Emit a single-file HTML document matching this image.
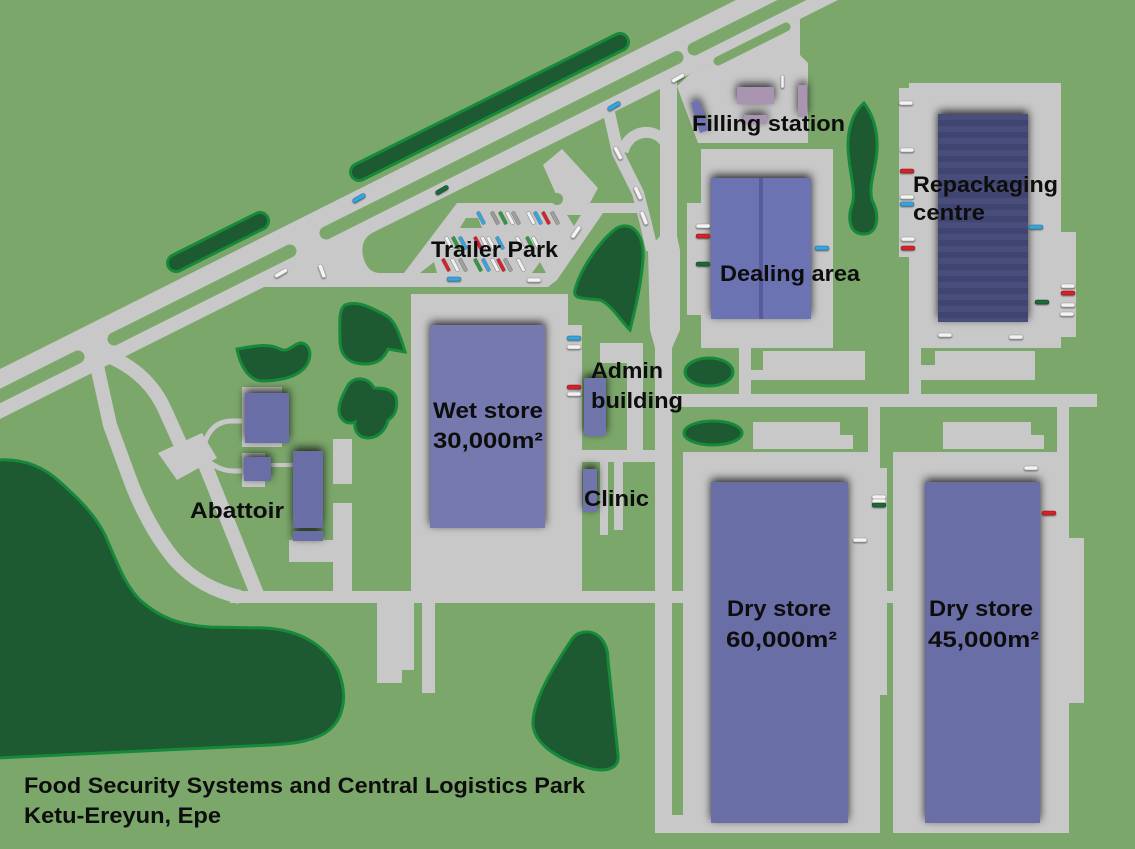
<!DOCTYPE html>
<html><head><meta charset="utf-8">
<style>
html,body{margin:0;padding:0;background:#7ba76b;}
svg{display:block;}
text{font-family:"Liberation Sans",sans-serif;font-weight:bold;fill:#0d0d0d;font-size:22px;}
</style></head><body>
<svg width="1135" height="849" viewBox="0 0 1135 849" xmlns="http://www.w3.org/2000/svg">
<defs>
<filter id="sh" x="-40%" y="-40%" width="180%" height="180%">
<feGaussianBlur in="SourceAlpha" stdDeviation="4.5"/>
<feOffset dy="-3" result="b"/>
<feFlood flood-color="#000" flood-opacity="0.8"/>
<feComposite in2="b" operator="in"/>
<feMerge><feMergeNode/><feMergeNode in="SourceGraphic"/></feMerge>
</filter>
<filter id="csh" x="-50%" y="-50%" width="200%" height="200%">
<feGaussianBlur in="SourceAlpha" stdDeviation="0.8"/>
<feOffset dy="0.8" result="b"/>
<feFlood flood-color="#000" flood-opacity="0.5"/>
<feComposite in2="b" operator="in"/>
<feMerge><feMergeNode/><feMergeNode in="SourceGraphic"/></feMerge>
</filter>
<pattern id="st" width="20" height="12" patternUnits="userSpaceOnUse" y="114">
<rect width="20" height="12" fill="#41446f"/><rect width="20" height="6" fill="#4a4d7c"/>
</pattern>
</defs>
<rect width="1135" height="849" fill="#7ba76b"/>

<g fill="#c8c8c8">
<polygon points="0,369 736,0 838,0 0,419"/>
<polygon points="222,308 262,287 548,287 557,280 603,213 648,213 645,200 605,100 236,285"/>
</g>
<path d="M380,273 L404,273 L457,203 L648,203 L612,114 L372,233 Q360,240 363,256 Q367,273 380,273 Z" fill="#7ba76b"/>
<polygon points="543,165 562,149 598,188 590,203 560,203" fill="#c8c8c8"/>
<circle cx="557" cy="199" r="6" fill="#7ba76b"/>
<g fill="#7ba76b">
<polygon points="460,228 466,218 478,218 482,228"/>
<polygon points="567,215 581,215 574,226"/>
<polygon points="420,273 434,262 437,273"/>
<polygon points="532,273 540,262 546,273"/>
</g>

<g fill="none" stroke="#c8c8c8" stroke-linejoin="round">
<polyline points="608,108 618,153 638,193 645,220 652,250" stroke-width="12"/>
<path d="M623,152 C627,132 652,125 665,142" stroke-width="11"/>
<path d="M97,366 L110,425 L132,485 Q150,530 175,560 Q200,588 240,597" stroke-width="14"/>
<path d="M106,355 Q148,372 165,410 L183,450" stroke-width="14"/>
<path d="M204,462 L257,594" stroke-width="14"/>
<path d="M205,442 Q212,421 232,421 L246,421" stroke-width="5"/>
<path d="M208,461 Q220,471 234,471 L246,471" stroke-width="5"/>
<path d="M268,465 L295,465" stroke-width="4"/>
</g>

<g fill="#c8c8c8">
<polygon points="660,82 677,82 677,236 680,250 680,330 672,348 672,833 655,833 655,348 650,330 648,250 660,236"/>
<polygon points="690,74 800,19 800,55 808,63 808,143 698,143 682,100 677,86"/>
<rect x="411" y="294" width="157" height="308"/>
<rect x="567" y="325" width="15" height="277"/>
<rect x="600" y="343" width="43" height="20"/>
<rect x="627" y="363" width="16" height="87"/>
<rect x="568" y="450" width="87" height="12"/>
<rect x="600" y="462" width="8" height="73"/>
<rect x="614" y="462" width="9" height="68"/>
<rect x="230" y="591" width="663" height="12"/>
<rect x="377" y="602" width="37" height="68"/>
<rect x="377" y="670" width="25" height="13"/>
<rect x="422" y="602" width="13" height="91"/>
<rect x="242" y="387" width="40" height="60"/>
<rect x="242" y="453" width="23" height="34"/>
<rect x="289" y="540" width="44" height="22"/>
<rect x="333" y="503" width="19" height="89"/>
<rect x="333" y="439" width="19" height="45"/>
<polygon points="158,453 202,433 217,458 177,480"/>
<rect x="701" y="149" width="132" height="199"/>
<rect x="687" y="203" width="14" height="112"/>
<rect x="739" y="348" width="12" height="47"/>
<rect x="763" y="351" width="102" height="29"/>
<rect x="751" y="370" width="14" height="10"/>
<rect x="909" y="83" width="152" height="265"/>
<rect x="899" y="88" width="10" height="169"/>
<rect x="1061" y="232" width="15" height="105"/>
<rect x="909" y="348" width="12" height="47"/>
<rect x="935" y="351" width="100" height="29"/>
<rect x="921" y="365" width="14" height="15"/>
<rect x="655" y="394" width="442" height="13"/>
<rect x="868" y="407" width="12" height="45"/>
<rect x="1057" y="407" width="12" height="131"/>
<rect x="753" y="422" width="87" height="27"/>
<rect x="840" y="435" width="13" height="14"/>
<rect x="943" y="422" width="88" height="27"/>
<rect x="1031" y="435" width="13" height="14"/>
<rect x="683" y="452" width="197" height="381"/>
<rect x="880" y="468" width="7" height="227"/>
<rect x="655" y="815" width="225" height="18"/>
<rect x="893" y="452" width="176" height="381"/>
<rect x="1069" y="538" width="15" height="165"/>
</g>

<g stroke="#7ba76b" stroke-width="13" stroke-linecap="round" fill="none">
<line x1="-10" y1="401" x2="78" y2="357"/>
<line x1="114" y1="339" x2="290" y2="251"/>
<line x1="326" y1="233" x2="677" y2="57.5"/>
<line x1="694" y1="49" x2="860" y2="-34"/>
<line x1="718" y1="61" x2="786" y2="27" stroke-width="9"/>
</g>

<g stroke-linecap="round" fill="none">
<line x1="359" y1="172" x2="620" y2="42" stroke="#16893b" stroke-width="20"/>
<line x1="359" y1="172" x2="620" y2="42" stroke="#1d5a31" stroke-width="14"/>
<line x1="176" y1="263" x2="260" y2="221" stroke="#16893b" stroke-width="20"/>
<line x1="176" y1="263" x2="260" y2="221" stroke="#1d5a31" stroke-width="14"/>
</g>

<g fill="#1d5a31" stroke="#16893b" stroke-width="3">
<path d="M-3,460 C25,458 45,468 60,482 C80,500 95,515 105,535 C118,565 125,585 140,600 C160,618 180,625 210,627 L265,628 C300,630 325,645 338,670 C348,695 345,720 325,733 C310,742 290,744 270,745 L-3,758 Z"/>
<path d="M580,633 C595,628 608,640 608,660 L618,755 C620,772 600,772 585,767 C560,760 535,745 533,725 C532,700 555,665 570,642 C573,637 576,634 580,633 Z"/>
<path d="M575,290 C580,270 600,240 617,228 C632,220 645,235 643,260 C641,285 635,310 630,330 C620,320 612,305 600,300 C585,298 572,300 575,290 Z"/>
<path d="M864,103 C873,115 878,130 877,150 C876,170 868,185 872,200 C880,215 878,233 865,234 C850,235 847,220 852,205 C857,190 848,170 848,145 C848,125 855,110 864,103 Z"/>
<path d="M237,349 C255,346 268,343 280,349 C288,353 292,345 300,343 C310,343 313,355 306,366 C298,377 280,381 262,381 C248,380 240,365 237,349 Z"/>
<path d="M345,305 C358,300 372,308 385,315 C395,320 400,335 405,352 L388,349 C384,358 378,364 365,364 C348,364 340,355 340,340 C340,325 338,310 345,305 Z"/>
<path d="M348,385 C355,376 368,377 374,388 C380,388 392,388 396,397 C398,408 395,416 388,420 C386,430 378,438 368,438 C358,438 354,430 355,422 C346,426 338,418 339,408 C340,400 343,395 348,385 Z"/>
<ellipse cx="709" cy="372" rx="24" ry="14"/>
<ellipse cx="713" cy="433" rx="29" ry="12"/>
</g>

<g filter="url(#sh)">
<rect x="430" y="325" width="115" height="203" fill="#7579ae"/>
<rect x="584" y="378" width="22" height="58" fill="#7075ac"/>
<rect x="583" y="469" width="14" height="43" fill="#7075ac"/>
<rect x="245" y="393" width="44" height="50" fill="#6a6ea6"/>
<rect x="244" y="457" width="27" height="24" fill="#6a6ea6"/>
<rect x="293" y="451" width="30" height="77" fill="#6a6ea6"/>
<rect x="293" y="531" width="30" height="10" fill="#6a6ea6"/>
<rect x="711" y="178" width="100" height="141" fill="#6c73b2"/>
<rect x="938" y="114" width="90" height="208" fill="url(#st)"/>
<rect x="711" y="482" width="137" height="341" fill="#6a6ea6"/>
<rect x="925" y="482" width="115" height="341" fill="#6a6ea6"/>
<rect x="737" y="87" width="37" height="17" fill="#a994b2"/>
<rect x="744" y="115" width="23" height="9" fill="#a994b2"/>
<rect x="798" y="85" width="9" height="32" fill="#a994b2"/>
<polygon points="691,103 699,100 709,130 700,133" fill="#6e72b0"/>
</g>
<rect x="759" y="178" width="4" height="141" fill="#565c99"/>

<g filter="url(#csh)" stroke-width="0.5">
<g fill="#f3f3f3" stroke="#999">
<rect x="696" y="224" width="14" height="4" rx="2"/>
<rect x="899" y="101" width="14" height="4" rx="2"/>
<rect x="900" y="148" width="14" height="4" rx="2"/>
<rect x="900" y="195" width="14" height="4" rx="2"/>
<rect x="901" y="237" width="14" height="4" rx="2"/>
<rect x="1061" y="284" width="14" height="4" rx="2"/>
<rect x="1061" y="303" width="14" height="4" rx="2"/>
<rect x="1060" y="312" width="14" height="4" rx="2"/>
<rect x="938" y="333" width="14" height="4" rx="2"/>
<rect x="1009" y="335" width="14" height="4" rx="2"/>
<rect x="567" y="345" width="14" height="4" rx="2"/>
<rect x="567" y="392" width="14" height="4" rx="2"/>
<rect x="872" y="495" width="14" height="4" rx="2"/>
<rect x="872" y="499" width="14" height="4" rx="2"/>
<rect x="853" y="538" width="14" height="4" rx="2"/>
<rect x="1024" y="466" width="14" height="4" rx="2"/>
<rect x="527" y="278" width="14" height="4" rx="2"/>
<rect x="781" y="75" width="3" height="13" rx="1.5"/>
<rect x="-7" y="-2" width="14" height="4" rx="2" transform="translate(281,273) rotate(-30)"/>
<rect x="-7" y="-2" width="14" height="4" rx="2" transform="translate(322,271) rotate(70)"/>
<rect x="-7" y="-2" width="14" height="4" rx="2" transform="translate(678,78) rotate(-30)"/>
<rect x="-7" y="-2" width="14" height="4" rx="2" transform="translate(618,153) rotate(62)"/>
<rect x="-7" y="-2" width="14" height="4" rx="2" transform="translate(638,193) rotate(65)"/>
<rect x="-7" y="-2" width="14" height="4" rx="2" transform="translate(644,218) rotate(68)"/>
<rect x="-7" y="-2" width="14" height="4" rx="2" transform="translate(576,232) rotate(-55)"/>
</g>
<g fill="#d8202c" stroke="#8a1010">
<rect x="696" y="234" width="14" height="4" rx="2"/>
<rect x="900" y="169" width="14" height="4" rx="2"/>
<rect x="901" y="246" width="14" height="4" rx="2"/>
<rect x="1061" y="291" width="14" height="4" rx="2"/>
<rect x="567" y="385" width="14" height="4" rx="2"/>
<rect x="1042" y="511" width="14" height="4" rx="2"/>
</g>
<g fill="#35a5e0" stroke="#1a6f9a">
<rect x="815" y="246" width="14" height="4" rx="2"/>
<rect x="900" y="202" width="14" height="4" rx="2"/>
<rect x="1029" y="225" width="14" height="4" rx="2"/>
<rect x="567" y="336" width="14" height="4" rx="2"/>
<rect x="447" y="277" width="14" height="4" rx="2"/>
<rect x="-7" y="-2" width="14" height="4" rx="2" transform="translate(359,198) rotate(-30)"/>
<rect x="-7" y="-2" width="14" height="4" rx="2" transform="translate(614,106) rotate(-30)"/>
</g>
<g fill="#1b6a38" stroke="#0d3d1e">
<rect x="696" y="262" width="14" height="4" rx="2"/>
<rect x="1035" y="300" width="14" height="4" rx="2"/>
<rect x="872" y="503" width="14" height="4" rx="2"/>
<rect x="-7" y="-2" width="14" height="4" rx="2" transform="translate(442,190) rotate(-30)"/>
</g>
</g>

<g stroke-width="0.4" stroke="#666">
<g transform="translate(481,218) rotate(-28)"><rect x="-1.8" y="-7" width="3.6" height="14" rx="1" fill="#35a5e0"/></g>
<g transform="translate(495,218) rotate(-28)"><rect x="-1.8" y="-7" width="3.6" height="14" rx="1" fill="#9a9a9a"/></g>
<g transform="translate(503,218) rotate(-28)"><rect x="-1.8" y="-7" width="3.6" height="14" rx="1" fill="#2f9a3c"/></g>
<g transform="translate(510,218) rotate(-28)"><rect x="-1.8" y="-7" width="3.6" height="14" rx="1" fill="#f0f0f0"/></g>
<g transform="translate(516,218) rotate(-28)"><rect x="-1.8" y="-7" width="3.6" height="14" rx="1" fill="#a0a0a0"/></g>
<g transform="translate(531,218) rotate(-28)"><rect x="-1.8" y="-7" width="3.6" height="14" rx="1" fill="#f0f0f0"/></g>
<g transform="translate(538,218) rotate(-28)"><rect x="-1.8" y="-7" width="3.6" height="14" rx="1" fill="#35a5e0"/></g>
<g transform="translate(546,218) rotate(-28)"><rect x="-1.8" y="-7" width="3.6" height="14" rx="1" fill="#d8202c"/></g>
<g transform="translate(555,218) rotate(-28)"><rect x="-1.8" y="-7" width="3.6" height="14" rx="1" fill="#a0a0a0"/></g>
<g transform="translate(449,243) rotate(-28)"><rect x="-1.8" y="-7" width="3.6" height="14" rx="1" fill="#f0f0f0"/></g>
<g transform="translate(456,243) rotate(-28)"><rect x="-1.8" y="-7" width="3.6" height="14" rx="1" fill="#2f9a3c"/></g>
<g transform="translate(463,243) rotate(-28)"><rect x="-1.8" y="-7" width="3.6" height="14" rx="1" fill="#35a5e0"/></g>
<g transform="translate(478,243) rotate(-28)"><rect x="-1.8" y="-7" width="3.6" height="14" rx="1" fill="#d8202c"/></g>
<g transform="translate(485,243) rotate(-28)"><rect x="-1.8" y="-7" width="3.6" height="14" rx="1" fill="#f0f0f0"/></g>
<g transform="translate(491,243) rotate(-28)"><rect x="-1.8" y="-7" width="3.6" height="14" rx="1" fill="#f0f0f0"/></g>
<g transform="translate(500,243) rotate(-28)"><rect x="-1.8" y="-7" width="3.6" height="14" rx="1" fill="#35a5e0"/></g>
<g transform="translate(520,243) rotate(-28)"><rect x="-1.8" y="-7" width="3.6" height="14" rx="1" fill="#f0f0f0"/></g>
<g transform="translate(530,243) rotate(-28)"><rect x="-1.8" y="-7" width="3.6" height="14" rx="1" fill="#2f9a3c"/></g>
<g transform="translate(536,243) rotate(-28)"><rect x="-1.8" y="-7" width="3.6" height="14" rx="1" fill="#f0f0f0"/></g>
<g transform="translate(446,265) rotate(-28)"><rect x="-1.8" y="-7" width="3.6" height="14" rx="1" fill="#d8202c"/></g>
<g transform="translate(455,265) rotate(-28)"><rect x="-1.8" y="-7" width="3.6" height="14" rx="1" fill="#f0f0f0"/></g>
<g transform="translate(463,265) rotate(-28)"><rect x="-1.8" y="-7" width="3.6" height="14" rx="1" fill="#a0a0a0"/></g>
<g transform="translate(478,265) rotate(-28)"><rect x="-1.8" y="-7" width="3.6" height="14" rx="1" fill="#2f9a3c"/></g>
<g transform="translate(486,265) rotate(-28)"><rect x="-1.8" y="-7" width="3.6" height="14" rx="1" fill="#35a5e0"/></g>
<g transform="translate(495,265) rotate(-28)"><rect x="-1.8" y="-7" width="3.6" height="14" rx="1" fill="#f0f0f0"/></g>
<g transform="translate(501,265) rotate(-28)"><rect x="-1.8" y="-7" width="3.6" height="14" rx="1" fill="#d8202c"/></g>
<g transform="translate(508,265) rotate(-28)"><rect x="-1.8" y="-7" width="3.6" height="14" rx="1" fill="#a0a0a0"/></g>
<g transform="translate(521,265) rotate(-28)"><rect x="-1.8" y="-7" width="3.6" height="14" rx="1" fill="#f0f0f0"/></g>
</g>

<g>
<text x="692" y="131" textLength="153" lengthAdjust="spacingAndGlyphs">Filling station</text>
<text x="913" y="192" textLength="145" lengthAdjust="spacingAndGlyphs">Repackaging</text>
<text x="913" y="220" textLength="72" lengthAdjust="spacingAndGlyphs">centre</text>
<text x="720" y="281" textLength="140" lengthAdjust="spacingAndGlyphs">Dealing area</text>
<text x="431" y="257" textLength="127" lengthAdjust="spacingAndGlyphs">Trailer Park</text>
<text x="433" y="418" textLength="110" lengthAdjust="spacingAndGlyphs">Wet store</text>
<text x="433" y="448" textLength="110" lengthAdjust="spacingAndGlyphs">30,000m²</text>
<text x="591" y="378" textLength="72" lengthAdjust="spacingAndGlyphs">Admin</text>
<text x="591" y="408" textLength="92" lengthAdjust="spacingAndGlyphs">building</text>
<text x="584" y="506" textLength="65" lengthAdjust="spacingAndGlyphs">Clinic</text>
<text x="190" y="518" textLength="94" lengthAdjust="spacingAndGlyphs">Abattoir</text>
<text x="727" y="616" textLength="104" lengthAdjust="spacingAndGlyphs">Dry store</text>
<text x="726" y="647" textLength="111" lengthAdjust="spacingAndGlyphs">60,000m²</text>
<text x="929" y="616" textLength="104" lengthAdjust="spacingAndGlyphs">Dry store</text>
<text x="928" y="647" textLength="111" lengthAdjust="spacingAndGlyphs">45,000m²</text>
<text x="24" y="793" textLength="561" lengthAdjust="spacingAndGlyphs">Food Security Systems and Central Logistics Park</text>
<text x="24" y="823" textLength="197" lengthAdjust="spacingAndGlyphs">Ketu-Ereyun, Epe</text>
</g>
</svg>
</body></html>
